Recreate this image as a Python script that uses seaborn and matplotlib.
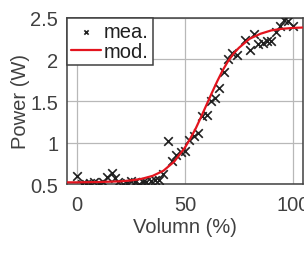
import pandas as pd
import matplotlib
matplotlib.use('Agg')
import matplotlib.pyplot as plt
import seaborn as sns

# measured points
vol_mea = [0, 2, 4, 6, 8, 10, 12, 14, 16, 17.5, 19, 21, 23, 25, 27, 28.5, 30.5, 32, 34, 36, 38,
           40, 42, 44, 46, 48, 50, 52, 54, 56, 58, 60, 62, 64, 66, 68, 70, 72, 74,
           78, 80, 82, 84, 86, 88, 90, 92, 94, 96, 98, 100]
pow_mea = [0.60, 0.50, 0.50, 0.51, 0.52, 0.50, 0.52, 0.59, 0.63, 0.57, 0.52, 0.50, 0.51, 0.54, 0.52, 0.50, 0.52, 0.53, 0.54, 0.55, 0.55,
           0.62, 1.02, 0.78, 0.85, 0.88, 0.90, 1.03, 1.08, 1.12, 1.32, 1.33, 1.50, 1.54, 1.66, 1.85, 2.00, 2.08, 2.06,
           2.23, 2.12, 2.31, 2.19, 2.20, 2.22, 2.22, 2.33, 2.40, 2.47, 2.46, 2.40]

# model curve
vol_mod = [-5, 0, 10, 20, 25, 30, 35, 40, 45, 50, 52.5, 55, 57.5, 60, 62.5, 65, 67.5, 70, 72.5, 75,
           80, 85, 90, 95, 100, 104.5]
pow_mod = [0.52, 0.52, 0.524, 0.532, 0.543, 0.563, 0.598, 0.66, 0.77, 0.94, 1.05, 1.17, 1.31, 1.455, 1.60, 1.74,
           1.87, 1.98, 2.07, 2.14, 2.25, 2.31, 2.35, 2.37, 2.38, 2.385]

df_mea = pd.DataFrame({'vol': vol_mea, 'pow': pow_mea})
df_mod = pd.DataFrame({'vol': vol_mod, 'pow': pow_mod})

sns.set_style('white')
plt.rcParams['font.family'] = ['Liberation Sans', 'DejaVu Sans']
txt = '#404040'
fs = 14.5

fig = plt.figure(figsize=(3.04, 2.55), dpi=100)
ax = fig.add_axes([0.2194, 0.2745, 0.7783, 0.651])

sns.scatterplot(data=df_mea, x='vol', y='pow', marker='x', color='#202020', s=38,
                linewidth=1.2, ax=ax, label='mea.', zorder=3)
sns.lineplot(data=df_mod, x='vol', y='pow', color='#e3141e', linewidth=1.6, sort=False,
             ax=ax, label='mod.', zorder=4)

ax.set_xlim(-4.9, 104.9)
ax.set_ylim(0.5, 2.5)
ax.set_xticks([0, 50, 100])
ax.set_xticklabels(['0', '50', '100'])
ax.set_yticks([0.5, 1, 1.5, 2, 2.5])
ax.set_yticklabels(['0.5', '1', '1.5', '2', '2.5'])
ax.grid(True, color='#b8b8b8', linewidth=0.9)
ax.set_axisbelow(True)
ax.tick_params(direction='in', length=4, width=0.9, colors='#404040', labelsize=fs,
               labelcolor=txt)
ax.tick_params(axis='x', pad=8)
ax.tick_params(axis='y', pad=6)
for sp in ax.spines.values():
    sp.set_color('#404040')
    sp.set_linewidth(1.1)
ax.set_xlabel('Volumn (%)', fontsize=fs, color=txt, labelpad=2)
ax.set_ylabel('Power (W)', fontsize=fs, color=txt, labelpad=0)

leg = ax.legend(loc='upper left', borderaxespad=0, fancybox=False, fontsize=fs,
                handlelength=1.5, handletextpad=0.15, borderpad=0.2, labelspacing=0.05,
                markerscale=0.5, framealpha=1)
leg.get_frame().set_edgecolor('#404040')
leg.get_frame().set_linewidth(1.1)
for t in leg.get_texts():
    t.set_color('#202020')

fig.savefig('out.png', dpi=100)
